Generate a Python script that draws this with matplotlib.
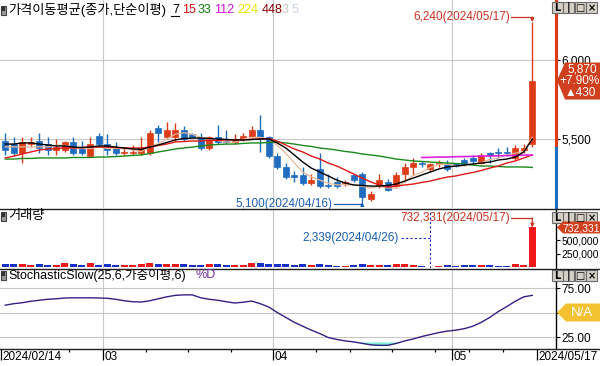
import matplotlib
matplotlib.use("Agg")
import matplotlib.pyplot as plt
import matplotlib.transforms as mtrans
from matplotlib.patches import Rectangle, Polygon
import numpy as np

plt.rcParams['font.family'] = ['Liberation Sans', 'Noto Sans CJK KR', 'DejaVu Sans']

# ---------------- data ----------------
dates = [
    "2024/02/14", "2024/02/15", "2024/02/16", "2024/02/19", "2024/02/20", "2024/02/21",
    "2024/02/22", "2024/02/23", "2024/02/26", "2024/02/27", "2024/02/28", "2024/02/29",
    "2024/03/04", "2024/03/05", "2024/03/06", "2024/03/07", "2024/03/08", "2024/03/11",
    "2024/03/12", "2024/03/13", "2024/03/14", "2024/03/15", "2024/03/18", "2024/03/19",
    "2024/03/20", "2024/03/21", "2024/03/22", "2024/03/25", "2024/03/26", "2024/03/27",
    "2024/03/28", "2024/03/29", "2024/04/01", "2024/04/02", "2024/04/03", "2024/04/04",
    "2024/04/05", "2024/04/08", "2024/04/09", "2024/04/11", "2024/04/12", "2024/04/15",
    "2024/04/16", "2024/04/17", "2024/04/18", "2024/04/19", "2024/04/22", "2024/04/23",
    "2024/04/24", "2024/04/25", "2024/04/26", "2024/04/29", "2024/04/30", "2024/05/02",
    "2024/05/03", "2024/05/07", "2024/05/08", "2024/05/09", "2024/05/10", "2024/05/13",
    "2024/05/14", "2024/05/16", "2024/05/17",
]
weekdays = [2, 3, 4, 0, 1, 2, 3, 4, 0, 1, 2, 3,
            0, 1, 2, 3, 4, 0, 1, 2, 3, 4, 0, 1, 2, 3, 4, 0, 1, 2, 3, 4,
            0, 1, 2, 3, 4, 0, 1, 3, 4, 0, 1, 2, 3, 4, 0, 1, 2, 3, 4, 0, 1,
            3, 4, 1, 2, 3, 4, 0, 1, 3, 4]

opens = [5490, 5470, 5410, 5470, 5490, 5470, 5430, 5430, 5480, 5440, 5390, 5520,
         5470, 5450, 5410, 5410, 5410, 5410, 5570, 5510, 5510, 5560, 5530, 5510,
         5440, 5510, 5490, 5480, 5500, 5510, 5560, 5510, 5390, 5320, 5270, 5270,
         5220, 5310, 5210, 5230, 5220, 5270, 5280, 5120, 5210, 5230, 5200, 5280,
         5320, 5350, 5310, 5340, 5340, 5340, 5370, 5380, 5350, 5410, 5420, 5420,
         5380, 5430, 5470]
highs = [5540, 5510, 5510, 5510, 5540, 5510, 5500, 5490, 5510, 5490, 5510, 5540,
         5530, 5480, 5450, 5460, 5510, 5560, 5590, 5610, 5600, 5580, 5540, 5540,
         5520, 5590, 5560, 5530, 5540, 5580, 5650, 5520, 5410, 5350, 5300, 5320,
         5280, 5410, 5280, 5260, 5240, 5280, 5290, 5170, 5280, 5250, 5290, 5350,
         5380, 5360, 5350, 5370, 5370, 5350, 5380, 5400, 5410, 5420, 5440, 5450,
         5460, 5470, 6240]
lows = [5400, 5390, 5350, 5450, 5410, 5400, 5400, 5420, 5400, 5400, 5390, 5450,
        5400, 5400, 5400, 5400, 5400, 5400, 5480, 5500, 5490, 5490, 5510, 5430,
        5430, 5470, 5470, 5470, 5490, 5500, 5420, 5380, 5310, 5250, 5230, 5210,
        5210, 5190, 5190, 5190, 5200, 5230, 5100, 5110, 5190, 5170, 5190, 5230,
        5270, 5320, 5290, 5320, 5300, 5320, 5330, 5350, 5340, 5350, 5380, 5390,
        5370, 5410, 5450]
closes = [5430, 5410, 5480, 5480, 5440, 5430, 5450, 5480, 5410, 5410, 5470, 5470,
          5430, 5410, 5420, 5420, 5440, 5540, 5540, 5560, 5560, 5500, 5510, 5440,
          5510, 5480, 5480, 5500, 5520, 5560, 5510, 5390, 5320, 5260, 5260, 5220,
          5240, 5200, 5200, 5200, 5230, 5240, 5130, 5150, 5240, 5180, 5270, 5320,
          5350, 5340, 5340, 5350, 5310, 5330, 5340, 5360, 5400, 5400, 5410, 5410,
          5440, 5440, 5870]
volumes = [52000, 48000, 61000, 35000, 58000, 43000, 39000, 74000, 52000, 41000,
           68000, 45000, 60000, 38000, 30000, 33000, 47000, 72000, 64000, 58000,
           55000, 49000, 28000, 46000, 57000, 62000, 36000, 31000, 40000, 66000,
           70000, 59000, 61000, 54000, 36000, 47000, 29000, 63000, 33000, 25000,
           21000, 30000, 58000, 44000, 41000, 35000, 48000, 52000, 39000, 18000,
           2339, 26000, 30000, 14000, 42000, 33000, 46000, 29000, 22000, 25000,
           48000, 31000, 732331]

ma5 = [5450, 5450, 5450, 5450, 5450, 5450, 5460, 5460, 5440, 5440, 5440, 5450,
       5440, 5440, 5440, 5430, 5420, 5450, 5470, 5500, 5530, 5540, 5530, 5510,
       5500, 5490, 5480, 5480, 5500, 5510, 5510, 5500, 5460, 5410, 5350, 5290,
       5260, 5240, 5220, 5210, 5210, 5210, 5200, 5190, 5200, 5190, 5190, 5230,
       5270, 5290, 5320, 5340, 5340, 5330, 5330, 5340, 5350, 5370, 5380, 5400,
       5410, 5420, 5510]
ma7 = [5468, 5468, 5475, 5475, 5468, 5462, 5456, 5456, 5449, 5446, 5449, 5456,
       5456, 5449, 5443, 5437, 5434, 5449, 5462, 5478, 5494, 5503, 5506, 5506,
       5503, 5500, 5497, 5494, 5494, 5497, 5500, 5500, 5475, 5443, 5399, 5354,
       5316, 5291, 5266, 5240, 5221, 5209, 5206, 5202, 5202, 5206, 5215, 5234,
       5253, 5272, 5291, 5310, 5323, 5329, 5335, 5342, 5348, 5354, 5367, 5373,
       5386, 5418, 5500]
ma15 = [5380, 5392, 5405, 5418, 5430, 5437, 5440, 5443, 5443, 5446, 5449, 5449,
        5449, 5446, 5443, 5443, 5443, 5449, 5459, 5468, 5481, 5484, 5487, 5487,
        5491, 5491, 5494, 5494, 5494, 5497, 5500, 5503, 5487, 5462, 5437, 5418,
        5392, 5373, 5348, 5329, 5304, 5278, 5253, 5228, 5209, 5196, 5202, 5209,
        5215, 5225, 5234, 5247, 5259, 5266, 5278, 5288, 5301, 5316, 5329, 5348,
        5361, 5380, 5399]
ma33 = [5373, 5373, 5377, 5377, 5380, 5380, 5380, 5380, 5383, 5383, 5383, 5386,
        5386, 5389, 5392, 5396, 5399, 5408, 5418, 5427, 5437, 5443, 5449, 5456,
        5462, 5465, 5468, 5468, 5472, 5475, 5475, 5478, 5481, 5475, 5468, 5459,
        5453, 5443, 5437, 5430, 5421, 5415, 5405, 5399, 5392, 5383, 5373, 5367,
        5361, 5358, 5354, 5351, 5348, 5345, 5342, 5335, 5329, 5329, 5326, 5323,
        5323, 5323, 5320]
ma112_start = 49
ma112 = [5383, 5384, 5386, 5386, 5388, 5389, 5390, 5392, 5392, 5394, 5395, 5396,
         5398, 5399]

stoch_d = [57.5, 59, 60, 61.5, 62.5, 63.5, 64, 64.8, 65, 65, 65, 64.8,
           64.5, 63.5, 62, 61, 60.7, 62, 64, 66, 67.5, 68, 68, 65,
           63.5, 62.5, 61, 59.7, 60.5, 61.7, 59, 55.6, 50, 45, 40, 36,
           32, 28.5, 24.5, 22.5, 21, 20, 18.5, 17, 16.5, 16.5, 18.5, 21,
           23, 25.5, 27.5, 29.5, 31, 32, 33.5, 36, 40, 45, 51, 56,
           61.5, 66, 67.5]

price_ticks = [5500, 6000]
vol_ticks = [250000, 500000]
stoch_ticks = [25, 50, 75]
ma_periods = ["7", "15", "33", "112", "224", "448", "3", "5"]

# ---------------- styling ----------------
UP = '#dc3c18'
DN = '#1f6cc0'
VUP = '#f01818'
VDN = '#1830c8'
GRID = '#c8c8c8'
KFONT = ['Liberation Sans', 'Noto Sans CJK KR', 'DejaVu Sans']

n = len(dates)
idx = np.arange(n)
o = np.array(opens, float)
c = np.array(closes, float)
hi = np.array(highs, float)
lo = np.array(lows, float)
up = c >= o
ccol = [UP if u else DN for u in up]
vcol = [VUP if u else VDN for u in up]

W, H = 600, 366
fig = plt.figure(figsize=(6, 3.66), dpi=100)


def rect(top, bottom, left=0, right=556):
    return [left / W, 1 - bottom / H, (right - left) / W, (bottom - top) / H]


ax_p = fig.add_axes(rect(0, 208))
ax_v = fig.add_axes(rect(210, 268))
ax_s = fig.add_axes(rect(269, 349))

XL = (-0.62, 64.79)
month_starts = [i for i in range(1, n) if dates[i][5:7] != dates[i - 1][5:7]]
week_starts = [i for i in range(1, n) if weekdays[i] < weekdays[i - 1]]

for ax in (ax_p, ax_v, ax_s):
    ax.set_xlim(*XL)
    for s in ('top', 'left', 'bottom'):
        ax.spines[s].set_visible(False)
    ax.spines['right'].set_linewidth(1.0)
    ax.yaxis.tick_right()
    ax.tick_params(axis='y', direction='out', length=3, width=0.8, pad=1.0,
                   labelsize=8.5, colors='black')
    for m in month_starts:
        ax.axvline(m - 0.5, color=GRID, lw=0.8, zorder=0)

# ---------------- price panel ----------------
ax_p.set_ylim(5063.3, 6379.7)
ax_p.set_yticks(price_ticks)
ax_p.set_yticklabels([f"{v:,}" for v in price_ticks])
for v in price_ticks:
    ax_p.axhline(v, color=GRID, lw=0.8, zorder=0)
ax_p.spines['right'].set_visible(False)
ax_p.tick_params(axis='x', bottom=False, labelbottom=False)

ax_p.vlines(idx, lo, hi, colors=ccol, lw=1.0, zorder=2)
body_h = np.maximum(np.abs(c - o), 6)
ax_p.bar(idx, body_h, bottom=np.minimum(o, c), width=0.74, color=ccol,
         edgecolor=ccol, linewidth=0.5, zorder=3)

ax_p.plot(idx, ma5, color='#e8b898', lw=0.9, zorder=4)
ax_p.plot(idx, ma33, color='#1a8a1a', lw=1.0, zorder=4)
ax_p.plot(idx, ma15, color='#e01818', lw=1.0, zorder=4)
ax_p.plot(idx, ma7, color='black', lw=1.0, zorder=5)
ax_p.plot(np.arange(ma112_start, ma112_start + len(ma112)), ma112,
          color='#e020e0', lw=1.2, zorder=4)

# colored right axis line (red above previous close, blue below)
prev_close = closes[-2]
bl = mtrans.blended_transform_factory(ax_p.transAxes, ax_p.transData)
ax_p.plot([1, 1], [prev_close, 6379.7], transform=bl, color=UP, lw=2.2,
          clip_on=False, zorder=6)
ax_p.plot([1, 1], [5063.3, prev_close], transform=bl, color=DN, lw=2.2,
          clip_on=False, zorder=6)

# high / low annotations
imax = int(np.argmax(hi))
imin = int(np.argmin(lo))
RED_T = '#c8321e'
BLU_T = '#1a5fb4'
y_hl = hi[imax] + 32
ax_p.text(imax - 2.55, y_hl, f"{int(hi[imax]):,}({dates[imax]})", color=RED_T,
          fontsize=8.5, ha='right', va='center', zorder=7)
ax_p.plot([imax - 2.45, imax], [y_hl, y_hl], color=RED_T, lw=0.9, zorder=7)
ax_p.annotate('', xy=(imax, hi[imax]), xytext=(imax, y_hl),
              arrowprops=dict(arrowstyle='-|>', color=RED_T, lw=0.9,
                              mutation_scale=5, shrinkA=0, shrinkB=0), zorder=7)
y_ll = lo[imin] - 12
ax_p.text(imin - 3.45, y_ll, f"{int(lo[imin]):,}({dates[imin]})", color=BLU_T,
          fontsize=8.5, ha='right', va='center', zorder=7)
ax_p.plot([imin - 3.35, imin], [y_ll, y_ll], color=BLU_T, lw=0.9, zorder=7)
ax_p.annotate('', xy=(imin, lo[imin]), xytext=(imin, y_ll),
              arrowprops=dict(arrowstyle='-|>', color=BLU_T, lw=0.9,
                              mutation_scale=5, shrinkA=0, shrinkB=0), zorder=7)

# ---------------- volume panel ----------------
ax_v.set_ylim(-18518, 1055555)
ax_v.set_yticks(vol_ticks)
ax_v.set_yticklabels([f"{v:,}" for v in vol_ticks])
ax_v.tick_params(axis='y', labelsize=7.5, pad=0.8)
ax_v.tick_params(axis='x', bottom=False, labelbottom=False)
ax_v.bar(idx, volumes, width=0.8, color=vcol, zorder=3)

vmax_i = int(np.argmax(volumes))
vmin_i = int(np.argmin(volumes))
yv = 907000
ax_v.text(vmax_i - 2.55, yv, f"{volumes[vmax_i]:,}({dates[vmax_i]})", color=RED_T,
          fontsize=8.5, ha='right', va='center', zorder=7)
ax_v.plot([vmax_i - 2.45, vmax_i], [yv, yv], color=RED_T, lw=0.9, zorder=7)
ax_v.annotate('', xy=(vmax_i, volumes[vmax_i]), xytext=(vmax_i, yv),
              arrowprops=dict(arrowstyle='-|>', color=RED_T, lw=0.9,
                              mutation_scale=5, shrinkA=0, shrinkB=0), zorder=7)
yv2 = 537000
ax_v.text(vmin_i - 3.7, yv2, f"{volumes[vmin_i]:,}({dates[vmin_i]})", color=BLU_T,
          fontsize=8.5, ha='right', va='center', zorder=7)
ax_v.plot([vmin_i - 3.5, vmin_i], [yv2, yv2], color='#2020c0', lw=0.8,
          ls=(0, (2, 2)), zorder=7)
ax_v.axvline(vmin_i, color='#2020c0', lw=0.8, ls=(0, (2, 2)), zorder=7)

# ---------------- stochastic panel ----------------
sd = np.array(stoch_d)
ax_s.set_ylim(12.76, 94.4)
ax_s.set_yticks(stoch_ticks)
ax_s.set_yticklabels([f"{v:.2f}" for v in stoch_ticks])
for v in stoch_ticks:
    ax_s.axhline(v, color=GRID, lw=0.8, zorder=0)
ax_s.fill_between(idx, sd, 20, where=sd < 20, interpolate=True,
                  color='#80f0d4', lw=0, zorder=2)
ax_s.plot(idx, sd, color='#3a1e82', lw=1.0, zorder=3)

major_pos = [-0.5] + [m - 0.5 for m in month_starts] + [n - 0.5]
major_lab = [dates[0]] + [dates[m][5:7] for m in month_starts] + [dates[-1]]
minor_pos = [w - 0.5 for w in week_starts if w not in month_starts and w > 6]
ax_s.set_xticks(major_pos)
ax_s.set_xticks(minor_pos, minor=True)
ax_s.tick_params(axis='x', which='major', length=8, width=0.9, direction='out',
                 labelbottom=False, color='black')
ax_s.tick_params(axis='x', which='minor', length=2.5, width=0.9, direction='out',
                 labelbottom=False, color='black')
for p, lab in zip(major_pos, major_lab):
    ax_s.annotate(lab, xy=(p, 0), xycoords=('data', 'axes fraction'),
                  xytext=(1.2, -1.2), textcoords='offset points', ha='left',
                  va='top', fontsize=8.5, annotation_clip=False)

# ---------------- overlay (decoration in pixel coords) ----------------
ov = fig.add_axes([0, 0, 1, 1])
ov.set_xlim(0, W)
ov.set_ylim(H, 0)
ov.axis('off')
ov.patch.set_alpha(0)
ov.set_zorder(10)


def to_px(ax, x, y):
    d = ax.transData.transform((x, y))
    return ov.transData.inverted().transform(d)


# separators
for yy in (208.5, 268.5, 349.0):
    ov.plot([0, W], [yy, yy], color='#202020', lw=1.0)


def icon(y):
    ov.add_patch(Rectangle((1, y - 4.5), 5, 9, facecolor='#9a9a9a',
                           edgecolor='#404040', lw=0.8))
    ov.add_patch(Rectangle((2, y - 3.5), 3, 4, facecolor='#303030', lw=0))


icon(10)
ov.text(8, 10, "가격이동평균(종가,단순이평)", fontsize=9.5, va='center', ha='left',
        family=KFONT)
ma_cols = ['black', '#d01010', '#108010', '#d010d0', '#e8e800', '#8b0000',
           '#c8c8c8', '#c8d4e4']
ma_x = [172, 182, 198, 214, 237, 262, 282, 292]
for lab, colr, xx in zip(ma_periods, ma_cols, ma_x):
    ov.text(xx, 10, lab, color=colr, fontsize=9, va='center', ha='left')
ov.plot([171, 179], [16, 16], color='black', lw=0.8)

icon(216)
ov.text(8, 216, "거래량", fontsize=9.5, va='center', ha='left', family=KFONT)

icon(275)
ov.text(8, 275, "StochasticSlow(25,6,가중이평,6)", fontsize=9, va='center',
        ha='left', family=KFONT)
ov.text(195, 275, "%D", fontsize=9, va='center', ha='left', color='#7030a0')

# panel buttons
for yb in (2, 212, 270):
    for k, g in enumerate(['L', '|', '□', '×']):
        xb = 552 + 11.3 * k
        ov.add_patch(Rectangle((xb, yb), 11, 11, facecolor='#d4d0c8',
                               edgecolor='#6a6a6a', lw=0.8))
        ov.text(xb + 5.5, yb + 5.8, g, fontsize=7, ha='center', va='center',
                fontweight='bold', family=['DejaVu Sans'])

# current price tag
px, py = to_px(ax_p, 0, closes[-1])
diff = closes[-1] - closes[-2]
pct = diff / closes[-2] * 100
ov.add_patch(Polygon([(557, py), (565, py - 18), (600, py - 18), (600, py + 19),
                      (565, py + 19)], closed=True, facecolor='#d0401e', lw=0))
ov.text(582, py - 11.5, f"{closes[-1]:,}", color='white', fontsize=8.5,
        ha='center', va='center')
ov.text(580, py + 0.5, f"+{pct:.2f}%", color='white', fontsize=8.5, ha='center',
        va='center')
ov.text(580, py + 12.5, f"▲{diff}", color='white', fontsize=8.5, ha='center',
        va='center', family=['Liberation Sans', 'DejaVu Sans'])

# volume max tag
vx, vy = to_px(ax_v, 0, volumes[-1])
ov.add_patch(Polygon([(557, vy), (563, vy - 6), (600, vy - 6), (600, vy + 6),
                      (563, vy + 6)], closed=True, facecolor='#d0401e', lw=0))
ov.text(581, vy + 1, f"{volumes[-1]:,}", color='white', fontsize=7.5, ha='center',
        va='center')

# stochastic N/A tag
sx, sy = to_px(ax_s, 0, 50)
ov.add_patch(Polygon([(557, sy), (566, sy - 9), (600, sy - 9), (600, sy + 9),
                      (566, sy + 9)], closed=True, facecolor='#f2c230', lw=0))
ov.text(582, sy, "N/A", color='white', fontsize=9.5, ha='center', va='center')

fig.savefig("out.png", dpi=100)
